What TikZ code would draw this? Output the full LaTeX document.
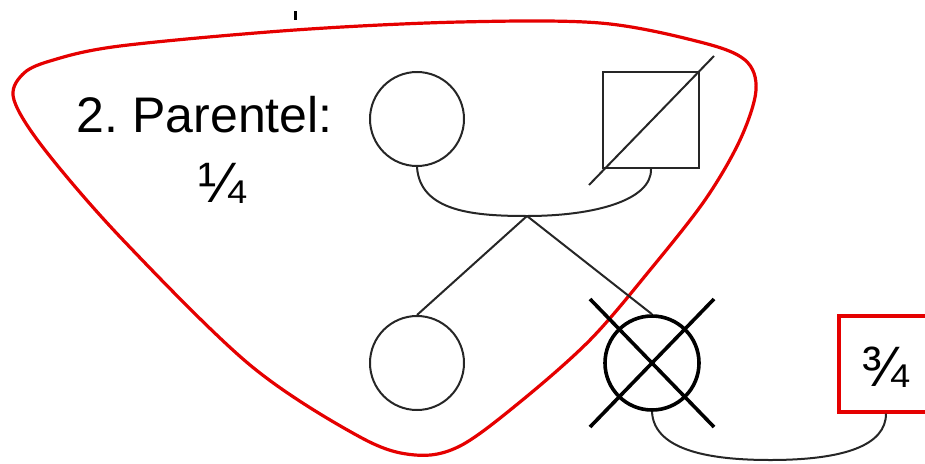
\documentclass[tikz,border=0pt]{standalone}
\usepackage{fontspec}
\setmainfont{Liberation Sans}
\begin{document}
\begin{tikzpicture}[x=1pt,y=-1pt,
  thinline/.style={draw=black!85, line width=2pt},
  thickline/.style={draw=black, line width=3.6pt},
  redline/.style={draw=red!90!black, line width=3.2pt},
  person/.style={circle, thinline, minimum size=94pt, inner sep=0pt},
  male/.style={rectangle, thinline, minimum size=96pt, inner sep=0pt},
  lbl/.style={font=\fontsize{50}{56}\selectfont, inner sep=0pt},
  fraclbl/.style={font=\fontsize{57}{60}\selectfont, inner sep=0pt}
]
\useasboundingbox (0,0) rectangle (925,463);
\clip (0,0) rectangle (925,463);
% small tick at top
\fill[black] (293.5,11) rectangle (297,20);
% red enclosing blob
\draw[redline] plot[smooth cycle, tension=0.55] coordinates {
 (14,100) (22,75) (50,61) (120,46) (295,30) (460,22) (600,23) (700,42)
 (745,60) (756,90) (740,140) (705,200) (650,270) (590,340) (520,402)
 (460,446) (415,455) (360,437) (250,365) (123,240) (45,150)};
% nodes
\node[person] (m1) at (417,119) {};
\node[male] (f1) at (651,120) {};
\node[person] (c1) at (417,363) {};
\node[person, thickline] (c2) at (652,363) {};
\node[rectangle, redline, minimum width=96pt, minimum height=96pt, inner sep=0pt] (box) at (887,364) {};
\node[fraclbl] (frac2) at (885,367) {¾};
\node[lbl, anchor=base west] (title) at (76,132) {2.\hspace{-0.08em} Parentel:};
\node[fraclbl] (frac1) at (222,183) {¼};
\coordinate (mj) at (527,216);
% deceased stroke through square
\coordinate (d1) at (589,185);
\coordinate (d2) at (714,56);
\draw[thinline] (d1) -- (d2);
% cross over crossed circle
\coordinate (x1) at (590,299);
\coordinate (x2) at (714,427);
\coordinate (x3) at (590,427);
\coordinate (x4) at (714,299);
\draw[thickline] (x1) -- (x2);
\draw[thickline] (x3) -- (x4);
% marriage line
\draw[thinline] (m1.south) .. controls (420,212) and (475,216) .. (mj)
  .. controls (595,216) and (652,200) .. (f1.south);
% descent lines
\draw[thinline] (mj) -- (c1.north);
\draw[thinline] (mj) -- (c2.north);
% link to box
\draw[thinline] (c2.south) .. controls (654,452) and (715,460) .. (770,460)
  .. controls (845,460) and (886,445) .. (box.south -| 886,0);
\end{tikzpicture}
\end{document}
